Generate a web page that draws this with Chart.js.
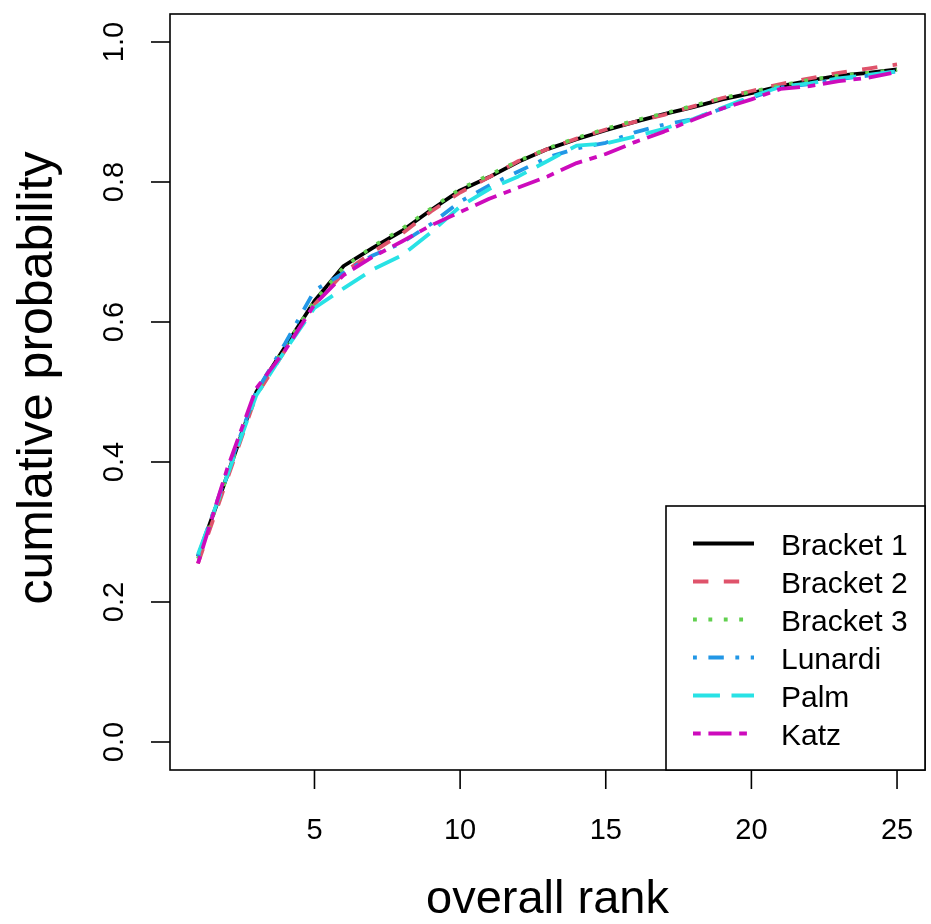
<!DOCTYPE html>
<html>
<head>
<meta charset="utf-8">
<script src="https://cdn.jsdelivr.net/npm/chart.js@4/dist/chart.umd.min.js"></script>
<style>
  html, body { margin: 0; padding: 0; background: #fff; }
  #wrap { width: 931px; height: 924px; }
</style>
</head>
<body>
<div id="wrap"><canvas id="chart" width="931" height="924"></canvas></div>
<script>
// data
const ranks = [1, 2, 3, 4, 5, 6, 7, 8, 9, 10, 11, 12, 13, 14, 15, 16, 17, 18, 19, 20, 21, 22, 23, 24, 25];

const bracket1 = [0.265, 0.38, 0.50, 0.565, 0.63, 0.68, 0.706, 0.73, 0.76, 0.788, 0.807, 0.829, 0.847, 0.861, 0.874, 0.886, 0.897, 0.907, 0.918, 0.927, 0.937, 0.945, 0.952, 0.956, 0.961];
const bracket2 = [0.255, 0.375, 0.495, 0.56, 0.625, 0.67, 0.70, 0.726, 0.758, 0.785, 0.807, 0.83, 0.847, 0.862, 0.875, 0.886, 0.896, 0.908, 0.92, 0.93, 0.94, 0.948, 0.956, 0.962, 0.968];
const bracket3 = [0.262, 0.38, 0.50, 0.565, 0.63, 0.678, 0.708, 0.733, 0.762, 0.79, 0.81, 0.83, 0.848, 0.863, 0.876, 0.888, 0.898, 0.909, 0.92, 0.929, 0.938, 0.946, 0.952, 0.956, 0.96];
const lunardi  = [0.265, 0.385, 0.50, 0.57, 0.645, 0.67, 0.695, 0.713, 0.74, 0.772, 0.795, 0.815, 0.835, 0.848, 0.856, 0.871, 0.882, 0.89, 0.905, 0.92, 0.935, 0.94, 0.947, 0.952, 0.958];
const palm     = [0.268, 0.38, 0.495, 0.56, 0.62, 0.648, 0.675, 0.695, 0.728, 0.765, 0.79, 0.808, 0.83, 0.852, 0.855, 0.865, 0.876, 0.89, 0.906, 0.922, 0.936, 0.941, 0.948, 0.953, 0.958];
const katz     = [0.255, 0.39, 0.505, 0.56, 0.625, 0.667, 0.693, 0.715, 0.738, 0.757, 0.776, 0.792, 0.808, 0.827, 0.84, 0.857, 0.872, 0.889, 0.905, 0.918, 0.933, 0.937, 0.944, 0.949, 0.957];

const seriesNames = ["Bracket 1", "Bracket 2", "Bracket 3", "Lunardi", "Palm", "Katz"];
const xTicks = [5, 10, 15, 20, 25];
const yTicks = [0, 0.2, 0.4, 0.6, 0.8, 1.0];
const yTickLabels = ["0.0", "0.2", "0.4", "0.6", "0.8", "1.0"];
const xTitle = "overall rank";
const yTitle = "cumlative probability";

// R-ish line types, unit ~ lwd
const U = 3.85;
const styles = [
  { color: "#000000", dash: [] },
  { color: "#DF536B", dash: [4 * U, 4 * U] },
  { color: "#61D04F", dash: [1 * U, 3 * U] },
  { color: "#2297E6", dash: [1 * U, 3 * U, 4 * U, 3 * U] },
  { color: "#28E2E5", dash: [7 * U, 3 * U] },
  { color: "#CD0BBC", dash: [2 * U, 2 * U, 6 * U, 2 * U] },
];
const LW = 3.8;
const FONT = "'Liberation Sans', Arial, Helvetica, sans-serif";

const allSeries = [bracket1, bracket2, bracket3, lunardi, palm, katz];

function pts(arr) {
  return ranks.map((r, i) => ({ x: r, y: arr[i] }));
}

const datasets = allSeries.map((arr, i) => ({
  label: seriesNames[i],
  data: pts(arr),
  borderColor: styles[i].color,
  borderDash: styles[i].dash,
  borderWidth: LW,
  borderCapStyle: "butt",
  borderJoinStyle: "round",
  pointRadius: 0,
  tension: 0,
  fill: false,
  order: allSeries.length - i, // later series on top, like R
}));

/* ---------- base-graphics style frame, axes, titles, legend ---------- */
const rFrame = {
  id: "rFrame",
  afterDraw(chart) {
    const { ctx, chartArea: a, scales } = chart;
    const xs = scales.x, ys = scales.y;
    ctx.save();
    ctx.strokeStyle = "#000";
    ctx.fillStyle = "#000";
    ctx.setLineDash([]);
    ctx.lineWidth = 1.6;
    ctx.strokeRect(a.left, a.top, a.right - a.left, a.bottom - a.top);

    // x axis
    ctx.font = "29px " + FONT;
    ctx.textAlign = "center";
    ctx.textBaseline = "middle";
    for (const t of xTicks) {
      const px = xs.getPixelForValue(t);
      ctx.beginPath();
      ctx.moveTo(px, a.bottom);
      ctx.lineTo(px, a.bottom + 19);
      ctx.stroke();
      ctx.fillText(String(t), px, 831);
    }

    // y axis
    yTicks.forEach((t, i) => {
      const py = ys.getPixelForValue(t);
      ctx.beginPath();
      ctx.moveTo(a.left - 19, py);
      ctx.lineTo(a.left, py);
      ctx.stroke();
      ctx.save();
      ctx.translate(123, py);
      ctx.rotate(-Math.PI / 2);
      ctx.textAlign = "center";
      ctx.textBaseline = "alphabetic";
      ctx.fillText(yTickLabels[i], 0, 0);
      ctx.restore();
    });

    // titles
    ctx.font = "47px " + FONT;
    ctx.textAlign = "center";
    ctx.textBaseline = "alphabetic";
    ctx.fillText(xTitle, (a.left + a.right) / 2, 913);
    ctx.save();
    ctx.translate(52, 378);
    ctx.rotate(-Math.PI / 2);
    ctx.font = "50px " + FONT;
    ctx.fillText(yTitle, 0, 0);
    ctx.restore();

    // legend, bottom right inside the box
    const lx = 666, ly = 506;
    ctx.fillStyle = "#fff";
    ctx.fillRect(lx, ly, a.right - lx, a.bottom - ly);
    ctx.strokeStyle = "#000";
    ctx.lineWidth = 1.6;
    ctx.strokeRect(lx, ly, a.right - lx, a.bottom - ly);
    ctx.font = "30px " + FONT;
    ctx.textAlign = "left";
    ctx.fillStyle = "#000";
    seriesNames.forEach((name, i) => {
      const y = 543.5 + i * 38;
      ctx.save();
      ctx.strokeStyle = styles[i].color;
      ctx.lineWidth = LW;
      ctx.lineCap = "butt";
      ctx.setLineDash(styles[i].dash);
      ctx.beginPath();
      ctx.moveTo(693, y);
      ctx.lineTo(754, y);
      ctx.stroke();
      ctx.restore();
      ctx.fillText(name, 781, y + 11);
    });
    ctx.restore();
  },
};

new Chart(document.getElementById("chart"), {
  type: "line",
  data: { datasets },
  options: {
    responsive: false,
    animation: false,
    parsing: true,
    layout: { padding: { left: 170, top: 14, right: 6, bottom: 154 } },
    plugins: { legend: { display: false }, tooltip: { enabled: false } },
    scales: {
      x: { type: "linear", min: 0.04, max: 25.96, display: false },
      y: { type: "linear", min: -0.04, max: 1.04, display: false },
    },
  },
  plugins: [rFrame],
});
</script>
</body>
</html>
